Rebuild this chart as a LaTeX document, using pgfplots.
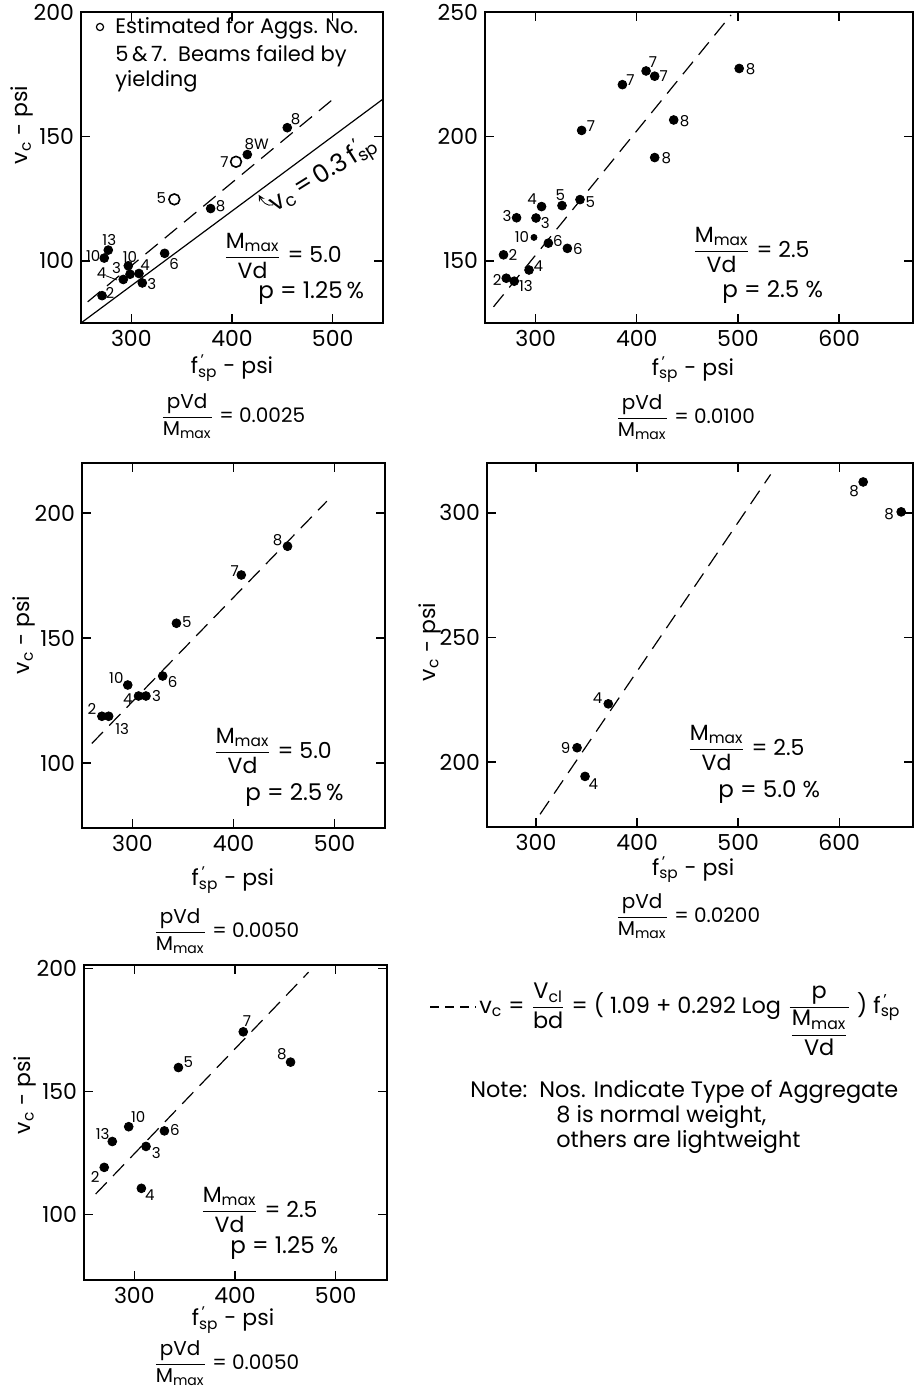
\documentclass[border=0pt]{standalone}
\usepackage{fontspec}
\setmainfont{Poppins}
\usepackage{pgfplots}
\pgfplotsset{compat=1.18}

\newcommand{\sub}[1]{\textsubscript{#1}}
\newcommand{\vc}{v\sub{c}}
\newcommand{\fsp}{f\rlap{\textsuperscript{\,'}}\sub{sp}}
\newcommand{\fr}[2]{$\displaystyle\frac{\mbox{#1}}{\mbox{#2}}$}

\pgfplotsset{
  panel/.style={scale only axis, anchor=south west, clip=false,
    axis line style={line width=0.7pt}, tick align=inside,
    major tick length=4.5pt, tick style={line width=0.7pt, black},
    ticklabel style={font=\fontsize{11}{12}\selectfont},
    /pgf/number format/assume math mode=true,
    label style={font=\fontsize{11}{12}\selectfont},
    xlabel style={anchor=center}, ylabel style={anchor=center}},
  pts/.style={only marks, mark=*, mark size=2.2pt, black,
    point meta=explicit symbolic, nodes near coords,
    visualization depends on={\thisrow{dx}\as\dx},
    visualization depends on={\thisrow{dy}\as\dy},
    every node near coord/.append style={anchor=center, xshift=\dx pt,
      yshift=\dy pt, inner sep=0pt, font=\fontsize{7.5}{8}\selectfont}},
  fitline/.style={black, line width=0.6pt, dash pattern=on 8pt off 4.5pt},
}

\begin{document}
\begin{tikzpicture}
\useasboundingbox (0,0) rectangle (457pt,-695.5pt);

% ---- panel 1: M/Vd = 5.0, p = 1.25%
\begin{axis}[panel, at={(40.5pt,-161.5pt)}, width=151pt, height=155.5pt,
  xmin=250, xmax=550, ymin=75, ymax=200,
  xtick={300,400,500}, ytick={100,150,200},
  xlabel={\fsp\ - psi}, ylabel={\vc\ - psi},
  xlabel style={at={(axis description cs:0.5,-0.145)}},
  ylabel style={at={(axis description cs:-0.195,0.637)}}]
\addplot[pts] table[meta=lbl] {
x y dx dy lbl
454.9 153.5 4.2 4.5 8
415.2 142.7 4.7 5.3 8W
378.8 121.0 5.0 1.0 8
333.1 103.0 4.8 -5.3 6
277.1 104.3 0.5 5.0 13
273.1 101.1 -5.5 1.2 10
297.0 98.0 0.8 4.5 10
298.7 94.6 -6.7 3.3 3
307.6 94.9 3.0 4.2 4
292.0 92.5 -10.8 3.0 4
310.9 91.1 4.7 -0.3 3
270.9 86.0 4.0 1.3 2
};
\addplot[pts, mark=o, mark size=2.7pt, mark options={line width=0.8pt}] table[meta=lbl] {
x y dx dy lbl
404.0 139.8 -5.8 0 7
342.7 124.7 -6.5 0.7 5
};
\addplot[fitline] coordinates {(256.6,83.5) (503.2,165.9)};
\addplot[black, line width=0.6pt] coordinates {(250,75) (550,165)};
\draw[line width=0.4pt] (axis cs:274.8,94) -- (axis cs:285.7,92.3);
\draw[-stealth, line width=0.4pt] (axis cs:441,122.5) to[out=200, in=-60] (axis cs:426.5,126.5);
\node[rotate=32, font=\fontsize{12.5}{13}\selectfont] at (axis cs:491,134.5) {\vc\,=\,0.3\,\fsp};
\end{axis}

% ---- panel 2: M/Vd = 2.5, p = 2.5%
\begin{axis}[panel, at={(242.5pt,-161.5pt)}, width=214pt, height=155.5pt,
  xmin=250, xmax=673, ymin=125, ymax=250,
  xtick={300,400,500,600}, ytick={150,200,250},
  xlabel={\fsp\ - psi},
  xlabel style={at={(axis description cs:0.486,-0.151)}}]
\addplot[pts] table[meta=lbl] {
x y dx dy lbl
409.2 226.3 3.5 4.5 7
417.7 224.2 4.5 0 7
385.8 220.8 4.0 2.2 7
501.2 227.3 5.7 -0.5 8
436.5 206.6 5.5 -0.5 8
345.5 202.4 4.7 2.0 7
417.7 191.5 5.8 -0.2 8
343.9 174.6 5.2 -1.3 5
326.1 172.2 -0.8 5.0 5
305.9 171.8 -4.8 3.7 4
281.2 167.3 -4.8 0.8 3
300.4 167.2 4.7 -2.7 3
312.6 157.1 4.8 1.2 6
331.4 155.0 5.3 -0.3 6
268.3 152.4 4.7 0 2
293.5 146.3 4.7 2.0 4
271.0 143.0 -4.5 -1.0 2
278.9 141.8 5.8 -2.3 13
};
\addplot[pts, mark size=1.5pt] table[meta=lbl] {
x y dx dy lbl
298.4 159.4 -6.0 0.3 10
};
\addplot[fitline] coordinates {(258.4,131.5) (493.2,248.8)};
\end{axis}

% ---- panel 3: M/Vd = 5.0, p = 2.5%
\begin{axis}[panel, at={(41pt,-414pt)}, width=151.5pt, height=182.5pt,
  xmin=250, xmax=550, ymin=74, ymax=220,
  xtick={300,400,500}, ytick={100,150,200},
  xlabel={\fsp\ - psi}, ylabel={\vc\ - psi},
  xlabel style={at={(axis description cs:0.498,-0.1425)}},
  ylabel style={at={(axis description cs:-0.191,0.529)}}]
\addplot[pts] table[meta=lbl] {
x y dx dy lbl
453.5 186.7 -5.0 3.3 8
407.7 175.2 -3.3 2.0 7
343.5 155.9 5.2 0.8 5
329.9 134.8 5.0 -3.0 6
295.3 131.2 -5.7 3.7 10
306.0 126.8 -5.3 -1.7 4
313.3 126.8 5.3 0 3
269.7 118.7 -5.0 3.8 2
276.4 118.7 6.8 -6.2 13
};
\addplot[fitline] coordinates {(259.7,107.8) (492.4,204.7)};
\end{axis}

% ---- panel 4: M/Vd = 2.5, p = 5.0%
\begin{axis}[panel, at={(243.5pt,-413.5pt)}, width=213pt, height=182pt,
  xmin=251.5, xmax=673, ymin=174, ymax=320,
  xtick={300,400,500,600}, ytick={200,250,300},
  xlabel={\fsp\ - psi}, ylabel={\vc\ - psi},
  xlabel style={at={(axis description cs:0.484,-0.118)}},
  ylabel style={at={(axis description cs:-0.135,0.508)}}]
\addplot[pts] table[meta=lbl] {
x y dx dy lbl
623.7 312.4 -4.5 -4.7 8
661.3 300.4 -6.0 -1.0 8
371.5 223.4 -5.3 3.0 4
340.6 205.8 -5.7 0 9
348.5 194.3 4.2 -3.7 4
};
\addplot[fitline] coordinates {(304,179.1) (532.1,315.4)};
\end{axis}

% ---- panel 5: M/Vd = 2.5, p = 1.25%
\begin{axis}[panel, at={(42pt,-640pt)}, width=151.5pt, height=157.5pt,
  xmin=250, xmax=551, ymin=73.5, ymax=201.3,
  xtick={300,400,500}, ytick={100,150,200},
  xlabel={\fsp\ - psi}, ylabel={\vc\ - psi},
  xlabel style={at={(axis description cs:0.492,-0.127)}},
  ylabel style={at={(axis description cs:-0.195,0.587)}}]
\addplot[pts] table[meta=lbl] {
x y dx dy lbl
408.2 174.2 1.8 5.5 7
455.2 161.9 -4.3 4.0 8
343.8 159.7 5.0 2.7 5
294.4 135.7 4.8 4.7 10
329.9 134.0 5.2 0.5 6
278.1 129.7 -4.8 3.8 13
311.6 127.7 5.2 -3.3 3
270.1 119.2 -4.5 -5.0 2
307.0 110.7 4.2 -3.2 4
};
\addplot[fitline] coordinates {(261.6,108.4) (473.1,198.4)};
\end{axis}

% ---- annotations, in reference pixel units
\begin{scope}[x=0.5pt, y=-0.5pt]
\draw[line width=0.6pt] (100,27) circle (1.8pt);
\begin{scope}[every node/.style={anchor=base west, inner sep=0pt, font=\fontsize{10.5}{12}\selectfont}]
\node at (115,34) {Estimated for Aggs. No.};
\node at (115,62) {5\,\&\,7.\ \ Beams failed by};
\node at (115,87) {yielding};
\end{scope}
\begin{scope}[every node/.style={anchor=base west, inner sep=0pt, font=\fontsize{11}{12}\selectfont}]
\node at (223,263) {\fr{M\sub{max}}{Vd} = 5.0};
\node at (692,257) {\fr{M\sub{max}}{Vd} = 2.5};
\node at (213,758) {\fr{M\sub{max}}{Vd} = 5.0};
\node at (687,755) {\fr{M\sub{max}}{Vd} = 2.5};
\node at (200,1217) {\fr{M\sub{max}}{Vd} = 2.5};
\end{scope}
\begin{scope}[every node/.style={anchor=base west, inner sep=0pt, font=\fontsize{11.5}{13}\selectfont}]
\node at (258,298) {p = 1.25\,\%};
\node at (722,297) {p = 2.5 \%};
\node at (245,800) {p = 2.5\,\%};
\node at (718,797) {p = 5.0 \%};
\node at (230,1253) {p = 1.25 \%};
\end{scope}
\begin{scope}[every node/.style={anchor=base west, inner sep=0pt, font=\fontsize{10}{12}\selectfont}]
\node at (160,422) {\fr{pVd}{M\sub{max}} = 0.0025};
\node at (615,423) {\fr{pVd}{M\sub{max}} = 0.0100};
\node at (153,937) {\fr{pVd}{M\sub{max}} = 0.0050};
\node at (615,922) {\fr{pVd}{M\sub{max}} = 0.0200};
\node at (153,1369) {\fr{pVd}{M\sub{max}} = 0.0050};
\end{scope}
\begin{scope}[every node/.style={anchor=base west, inner sep=0pt, font=\fontsize{11.2}{13}\selectfont}]
\draw[line width=0.6pt, dash pattern=on 4.5pt off 3pt] (430,1007) -- (476,1007);
\node at (479,1013) {\vc\ = \fr{V\sub{cl}}{bd} = ( 1.09 + 0.292 Log
  $\displaystyle\frac{\mbox{p}}{\displaystyle\frac{\mbox{M\sub{max}}}{\mbox{Vd}}}$ ) \fsp};
\node at (470,1097) {Note:\ \ Nos. Indicate Type of Aggregate};
\node at (556,1122) {8 is normal weight,};
\node at (556,1147) {others are lightweight};
\end{scope}
\end{scope}
\end{tikzpicture}
\end{document}
